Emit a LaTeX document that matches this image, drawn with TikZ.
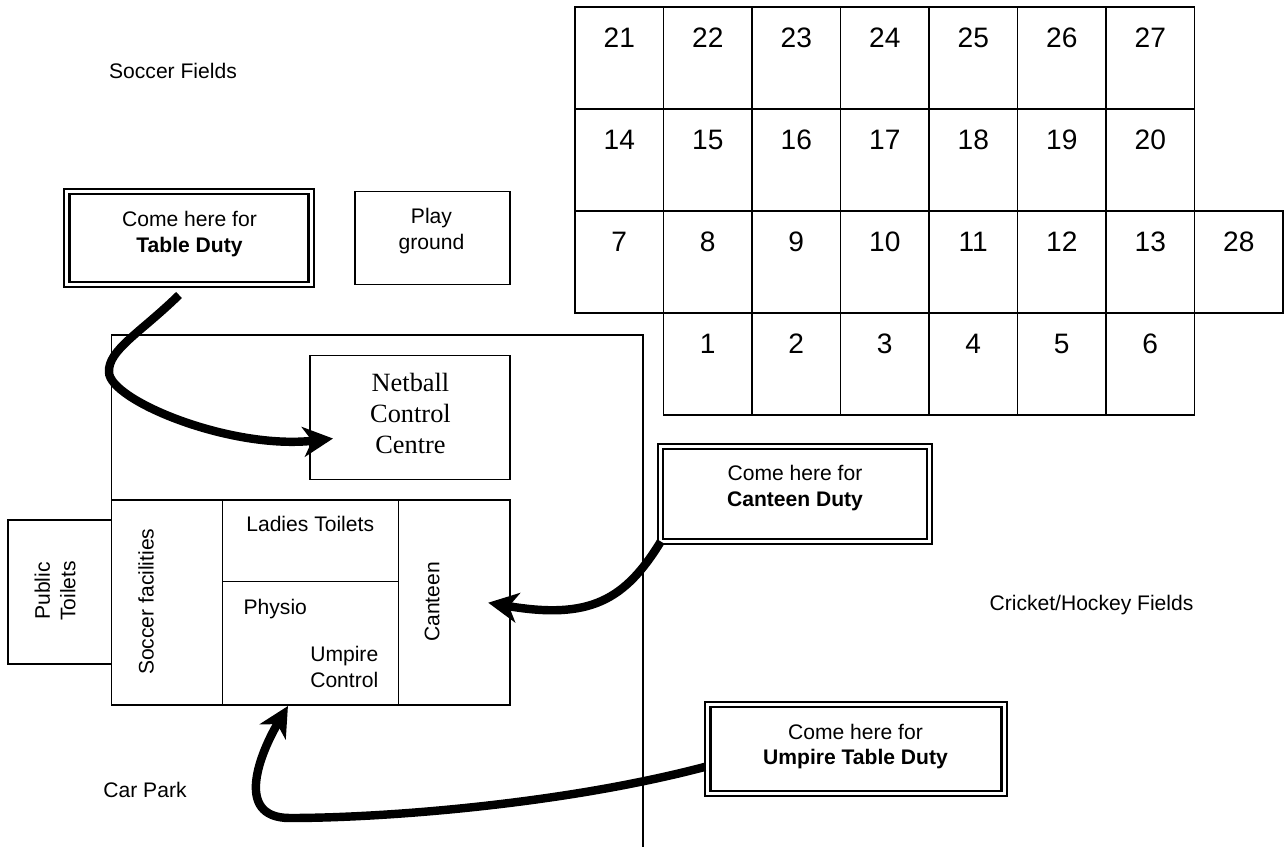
\documentclass[tikz,border=0pt]{standalone}
\usepackage{fontspec}
\setmainfont{Liberation Sans}
\newfontfamily\serifnb{Liberation Serif}
\usetikzlibrary{arrows.meta,calc}
\begin{document}
\begin{tikzpicture}[x=0.02cm, y=-0.02cm,
  box/.style={draw, line width=0.85pt, inner sep=0pt, outer sep=0pt},
  cellbox/.style={box, minimum width=1.77cm, minimum height=2.04cm},
  num/.style={font=\fontsize{16}{19}\selectfont, inner sep=0pt},
  lbl/.style={font=\fontsize{12}{14.5}\selectfont, inner sep=0pt, align=center},
  dbox/.style={draw, line width=1pt, inner sep=0pt, outer sep=0pt},
  innerline/.style={draw, line width=1.3pt},
  bigarrow/.style={line width=4.8pt, -{Stealth[length=17pt, width=17pt, inset=5pt]}},
]
\useasboundingbox (0,0) rectangle (1285,850);

% ---- pitch grid ----
\foreach \n [count=\i from 0] in {21,...,27} {
  \node[cellbox] (c\n) at ({619.25+88.5*\i}, 58) {};
  \node[num] at ($(c\n.north)+(0,31)$) {\n};
}
\foreach \n [count=\i from 0] in {14,...,20} {
  \node[cellbox] (c\n) at ({619.25+88.5*\i}, 160) {};
  \node[num] at ($(c\n.north)+(0,31)$) {\n};
}
\foreach \n [count=\i from 0] in {7,8,9,10,11,12,13,28} {
  \node[cellbox] (c\n) at ({619.25+88.5*\i}, 262) {};
  \node[num] at ($(c\n.north)+(0,31)$) {\n};
}
\foreach \n [count=\i from 1] in {1,...,6} {
  \node[cellbox] (c\n) at ({619.25+88.5*\i}, 364) {};
  \node[num] at ($(c\n.north)+(0,31)$) {\n};
}

% ---- building outline and boundary ----
\draw[line width=0.85pt] (111.6,500) -- (111.6,335) -- (643,335) -- (643,847);

\node[box, minimum width=2.214cm, minimum height=4.1cm] (sf) at (166.95,602.5) {};
\node[box, minimum width=3.526cm, minimum height=1.634cm] (lt) at (310.45,540.85) {};
\node[box, minimum width=3.526cm, minimum height=2.466cm] (ph) at (310.45,643.35) {};
\node[box, minimum width=2.224cm, minimum height=4.1cm] (ca) at (454.2,602.5) {};
\node[box, minimum width=2.072cm, minimum height=2.88cm] (pt) at (59.8,592) {};

\node[lbl, rotate=90] at (55,591) {Public\\Toilets};
\node[lbl, rotate=90] at (146,601.7) {Soccer facilities};
\node[lbl, rotate=90] at (432,602) {Canteen};
\node[lbl] at (310.2,524) {Ladies Toilets};
\node[lbl, anchor=base west] at (243.3,614) {Physio};
\node[lbl, anchor=north east, align=right] at (378.6,646.3) {Umpire\\Control};

% ---- netball control centre, playground ----
\node[box, minimum width=4cm, minimum height=2.472cm] (ncc) at (410,417.5) {};
\node[font=\serifnb\fontsize{15}{17.6}\selectfont, align=center, inner sep=0pt] at (410.5,413.7) {Netball\\Control\\Centre};

\node[box, minimum width=3.1cm, minimum height=1.852cm] (pg) at (432.5,238) {};
\node[lbl] at (431.5,231) {Play\\ground};

% ---- "come here" boxes ----
\node[dbox, minimum width=5cm, minimum height=1.972cm] (td) at (189,238) {};
\draw[innerline] ($(td.north west)+(5.5,5)$) rectangle ($(td.south east)+(-5.5,-5)$);
\node[lbl] at (189.5,234) {Come here for\\\textbf{Table Duty}};

\node[dbox, minimum width=5.472cm, minimum height=2cm] (cd) at (795.1,494) {};
\draw[innerline] ($(cd.north west)+(5,5)$) rectangle ($(cd.south east)+(-5,-5)$);
\node[lbl] at (795,488) {Come here for\\\textbf{Canteen Duty}};

\node[dbox, minimum width=6.04cm, minimum height=1.886cm] (ud) at (856,748.85) {};
\draw[innerline] ($(ud.north west)+(5.5,5)$) rectangle ($(ud.south east)+(-5.5,-5)$);
\node[lbl] at (855.5,746.7) {Come here for\\\textbf{Umpire Table Duty}};

% ---- area labels ----
\node[lbl] at (173,71) {Soccer Fields};
\node[lbl] at (1091.5,605) {Cricket/Hockey Fields};
\node[lbl] at (145,790) {Car Park};

% ---- arrows ----
\coordinate (a1s) at ($(td.south)+(-10,7.7)$);
\coordinate (a1e) at ($(ncc.west)+(23,21)$);
\draw[bigarrow] (a1s) .. controls (140,333) and (108,350) .. (109,372)
  .. controls (109,400) and (230,450) .. (a1e);

\coordinate (a2s) at ($(cd.south west)+(2.5,-2.5)$);
\coordinate (a2e) at ($(ca.east)+(-21.6,0.2)$);
\draw[bigarrow] (a2s) .. controls (625,600) and (590,620) .. (a2e);

\coordinate (a3s) at ($(ud.west)+(0,18)$);
\coordinate (a3e) at ($(ph.south)+(-22.5,1)$);
\draw[bigarrow] (a3s) .. controls (560,805) and (380,818) .. (290,818)
  .. controls (232,818) and (262,750) .. (a3e);
\end{tikzpicture}
\end{document}
